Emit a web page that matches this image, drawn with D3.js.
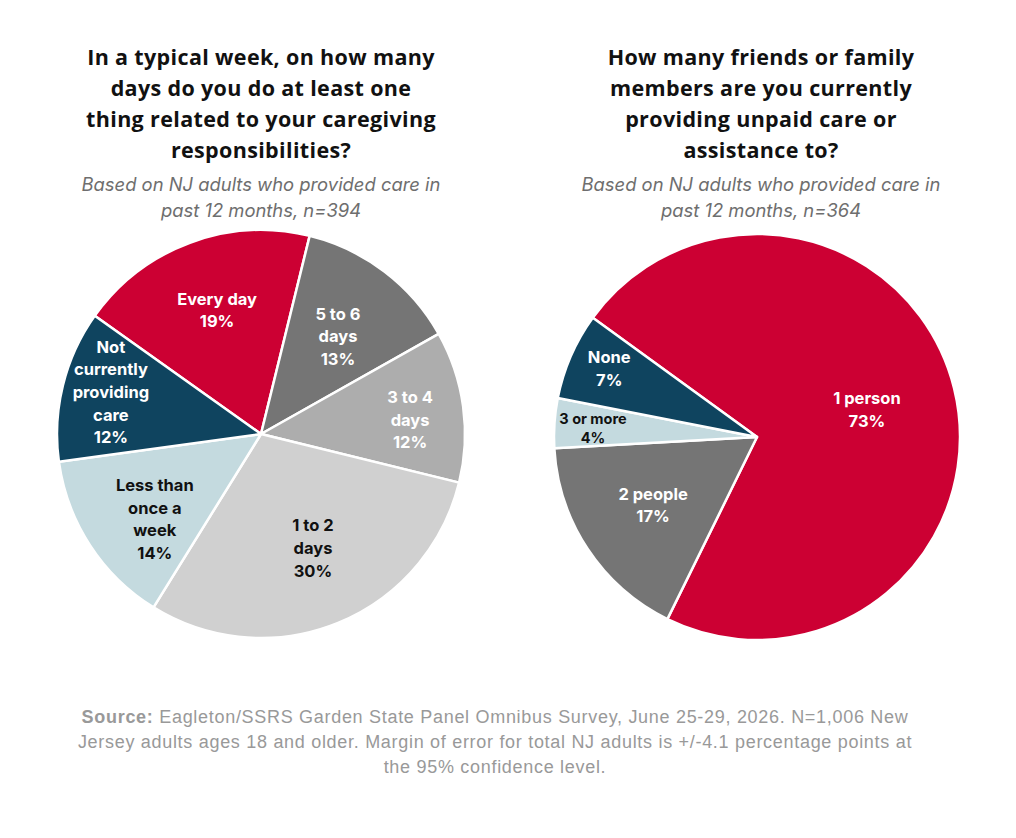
<!DOCTYPE html>
<html>
<head>
<meta charset="utf-8">
<script src="https://cdn.jsdelivr.net/npm/d3@7"></script>
<style>
  html, body { margin: 0; padding: 0; background: #fff; }
  svg { display: block; }
</style>
</head>
<body>
<div id="chart"></div>
<script>
// ---- data ----
const daysCategories = ["Every day", "5 to 6 days", "3 to 4 days", "1 to 2 days", "Less than once a week", "Not currently providing care"];
const daysValues = [19, 13, 12, 30, 14, 12];
const daysLabelLines = [["Every day"], ["5 to 6", "days"], ["3 to 4", "days"], ["1 to 2", "days"], ["Less than", "once a", "week"], ["Not", "currently", "providing", "care"]];

const peopleCategories = ["1 person", "2 people", "3 or more", "None"];
const peopleValues = [73, 17, 4, 7];
const peopleLabelLines = [["1 person"], ["2 people"], ["3 or more"], ["None"]];

const titles = [
  ["In a typical week, on how many", "days do you do at least one", "thing related to your caregiving", "responsibilities?"],
  ["How many friends or family", "members are you currently", "providing unpaid care or", "assistance to?"]
];
const subtitles = [
  ["Based on NJ adults who provided care in", "past 12 months, n=394"],
  ["Based on NJ adults who provided care in", "past 12 months, n=364"]
];

// ---- layout / style ----
const width = 1016, height = 838;
const fontTitle = "'Open Sans', 'Noto Sans', sans-serif";
const fontMain = "Inter, 'Open Sans', sans-serif";

const daysColors = ["#CC0033", "#757575", "#ADADAD", "#D0D0D0", "#C4DADF", "#0F445F"];
const daysText = ["#fff", "#fff", "#fff", "#111", "#111", "#fff"];
// label placement: [fraction of radius, angle nudge in degrees]
const daysLabelPos = [[0.645, 0.9], [0.61, 1], [0.734, 2.4], [0.614, -2.3], [0.667, -5.7], [0.764, 1.8]];

const peopleColors = ["#CC0033", "#757575", "#C4DADF", "#0F445F"];
const peopleText = ["#fff", "#fff", "#111", "#fff"];
const peopleLabelPos = [[0.558, 0], [0.612, 0.3], [0.809, -0.9], [0.802, 1.3]];

const svg = d3.select("#chart").append("svg")
  .attr("width", width)
  .attr("height", height);

function drawHeader(cx, i) {
  svg.append("text")
    .attr("x", cx).attr("y", 65)
    .attr("text-anchor", "middle")
    .style("font-family", fontTitle)
    .style("font-weight", 700)
    .style("font-size", "21.5px")
    .style("letter-spacing", "0.35px")
    .style("fill", "#111")
    .selectAll("tspan")
    .data(titles[i])
    .join("tspan")
    .attr("x", cx)
    .attr("dy", (d, j) => (j === 0 ? 0 : 31))
    .text((d) => d);

  svg.append("text")
    .attr("x", cx).attr("y", 191)
    .attr("text-anchor", "middle")
    .style("font-family", fontMain)
    .style("font-style", "italic")
    .style("font-size", "18.4px")
    .style("fill", "#6e6e6e")
    .selectAll("tspan")
    .data(subtitles[i])
    .join("tspan")
    .attr("x", cx)
    .attr("dy", (d, j) => (j === 0 ? 0 : 26))
    .text((d) => d);
}

function drawPie(opts) {
  const { cx, cy, r, values, lines, colors, textColors, labelPos, startDeg, fontSize } = opts;

  const pie = d3.pie()
    .sort(null)
    .value((d) => d)
    .startAngle((startDeg * Math.PI) / 180)
    .endAngle((startDeg * Math.PI) / 180 + 2 * Math.PI);

  const arcs = pie(values);
  const arc = d3.arc().innerRadius(0).outerRadius(r);

  const g = svg.append("g").attr("transform", `translate(${cx},${cy})`);

  g.selectAll("path.slice")
    .data(arcs)
    .join("path")
    .attr("class", "slice")
    .attr("d", arc)
    .attr("fill", (d, i) => colors[i])
    .attr("stroke", "#fff")
    .attr("stroke-width", 2.5)
    .attr("stroke-linejoin", "round");

  g.selectAll("text.slice-label")
    .data(arcs)
    .join("text")
    .attr("class", "slice-label")
    .attr("text-anchor", "middle")
    .style("font-family", fontMain)
    .style("font-weight", 700)
    .style("font-size", (d, i) => fontSize[i] + "px")
    .style("fill", (d, i) => textColors[i])
    .each(function (d, i) {
      const [k, nudge] = labelPos[i];
      const mid = (d.startAngle + d.endAngle) / 2 + (nudge * Math.PI) / 180;
      const rr = r * k;
      const x = Math.sin(mid) * rr;
      const y = -Math.cos(mid) * rr;
      const rows = lines[i].concat([d.value + "%"]);
      const lh = fontSize[i] < 15 ? 19 : 22.6;
      const y0 = y - ((rows.length - 1) * lh) / 2 + fontSize[i] * 0.36;
      d3.select(this)
        .selectAll("tspan")
        .data(rows)
        .join("tspan")
        .attr("x", x)
        .attr("y", (t, j) => y0 + j * lh)
        .text((t) => t);
    });
}

drawHeader(261, 0);
drawHeader(761, 1);

drawPie({
  cx: 261, cy: 434, r: 204,
  values: daysValues, lines: daysLabelLines,
  colors: daysColors, textColors: daysText, labelPos: daysLabelPos,
  startDeg: -54.6,
  fontSize: [16.5, 16.5, 16.5, 16.5, 16.5, 16.5]
});

drawPie({
  cx: 757, cy: 437, r: 203,
  values: peopleValues, lines: peopleLabelLines,
  colors: peopleColors, textColors: peopleText, labelPos: peopleLabelPos,
  startDeg: -54,
  fontSize: [16.5, 16.5, 14.5, 16.5]
});

// ---- source note ----
const sourceLines = [
  [["Source: ", true], ["Eagleton/SSRS Garden State Panel Omnibus Survey, June 25-29, 2026. N=1,006 New", false]],
  [["Jersey adults ages 18 and older. Margin of error for total NJ adults is +/-4.1 percentage points at", false]],
  [["the 95% confidence level.", false]]
];

sourceLines.forEach((parts, i) => {
  const t = svg.append("text")
    .attr("x", 495)
    .attr("y", 723 + i * 25)
    .attr("text-anchor", "middle")
    .style("font-family", "'Liberation Sans', Arial, sans-serif")
    .style("font-size", "18px")
    .style("letter-spacing", "0.7px")
    .style("fill", "#999");
  parts.forEach(([s, bold]) => {
    t.append("tspan").style("font-weight", bold ? 700 : 400).text(s);
  });
});
</script>
</body>
</html>
